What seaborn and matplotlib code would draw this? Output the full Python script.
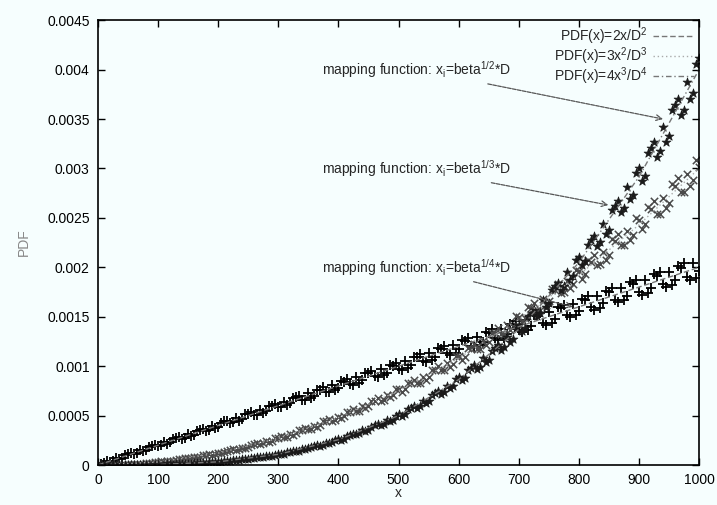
"""
Histogram of sampled positions for three mapping functions x_i = beta^(1/n) * D,
compared with the analytical PDFs (gnuplot-style reproduction).
"""

import numpy as np
import pandas as pd
import matplotlib
matplotlib.use("Agg")
import matplotlib.pyplot as plt
import seaborn as sns

# sample positions: bins on the tens and bins on the fives
x_samples = list(range(0, 1001, 10))
x_samples_half = list(range(5, 1000, 10))

# measured PDF values, in units of 1e-4
pdf_sqrt_e4 = [
    0.05, 0.25, 0.31, 0.72, 0.74, 1.12, 1.08, 1.52, 1.49, 1.95,
    1.90, 2.35, 2.28, 2.71, 2.66, 3.18, 3.05, 3.52, 3.44, 3.97,
    3.88, 4.41, 4.25, 4.79, 4.66, 5.19, 5.02, 5.61, 5.47, 5.95,
    5.83, 6.42, 6.24, 6.85, 6.62, 7.25, 7.01, 7.63, 7.42, 8.10,
    7.81, 8.43, 8.19, 8.88, 8.57, 9.26, 8.98, 9.70, 9.35, 10.05,
    9.74, 10.48, 10.16, 10.91, 10.55, 11.31, 10.92, 11.72, 11.33, 12.14,
    11.71, 12.55, 12.08, 12.97, 12.49, 13.36, 12.87, 13.78, 13.26, 14.21,
    13.64, 14.62, 14.03, 15.04, 14.41, 15.43, 14.80, 15.86, 15.18, 16.27,
    15.57, 16.68, 15.95, 17.10, 16.34, 17.51, 16.73, 17.92, 17.12, 18.33,
    17.51, 18.74, 17.90, 19.15, 18.29, 19.57, 18.68, 19.98, 19.07, 20.39,
    19.62,
]
pdf_sqrt_half_e4 = [
    0.14, 0.36, 0.44, 0.62, 0.98, 1.19, 1.21, 1.40, 1.81, 2.02,
    1.98, 2.17, 2.64, 2.85, 2.75, 2.94, 3.46, 3.68, 3.53, 3.72,
    4.28, 4.50, 4.31, 4.49, 5.12, 5.34, 5.07, 5.26, 5.95, 6.18,
    5.84, 6.02, 6.79, 7.01, 6.60, 6.78, 7.63, 7.85, 7.36, 7.54,
    8.46, 8.69, 8.12, 8.31, 9.30, 9.52, 8.88, 9.07, 10.13, 10.36,
    9.64, 9.83, 10.97, 11.20, 10.40, 10.59, 11.80, 12.03, 11.16, 11.35,
    12.64, 12.87, 11.92, 12.11, 13.47, 13.71, 12.68, 12.87, 14.31, 14.55,
    13.44, 13.63, 15.14, 15.38, 14.20, 14.39, 15.98, 16.22, 14.96, 15.15,
    16.81, 17.05, 15.72, 15.91, 17.65, 17.89, 16.48, 16.67, 18.48, 18.72,
    17.24, 17.43, 19.32, 19.56, 18.00, 18.19, 20.15, 20.39, 18.76, 18.95,
]
pdf_cbrt_e4 = [
    0.02, 0.05, 0.03, 0.06, 0.04, 0.09, 0.12, 0.14, 0.21, 0.23,
    0.32, 0.35, 0.45, 0.49, 0.61, 0.66, 0.79, 0.85, 1.00, 1.06,
    1.23, 1.29, 1.49, 1.55, 1.77, 1.83, 2.08, 2.13, 2.41, 2.46,
    2.76, 2.82, 3.14, 3.20, 3.55, 3.60, 3.97, 4.03, 4.42, 4.48,
    4.90, 4.95, 5.40, 5.45, 5.93, 5.97, 6.47, 6.51, 7.05, 7.09,
    7.64, 7.67, 8.27, 8.28, 8.92, 8.93, 9.59, 9.58, 10.29, 10.25,
    11.01, 10.95, 11.76, 11.69, 12.53, 12.44, 13.33, 13.22, 14.15, 14.02,
    15.00, 14.85, 15.86, 15.69, 16.76, 16.55, 17.67, 17.43, 18.62, 18.35,
    19.58, 19.29, 20.58, 20.25, 21.59, 21.24, 22.63, 22.26, 23.70, 23.29,
    24.79, 24.35, 25.90, 25.43, 27.04, 26.53, 28.20, 27.66, 29.39, 28.81,
    30.10,
]
pdf_cbrt_half_e4 = [
    0.01, 0.04, 0.05, 0.02, 0.04, 0.11, 0.15, 0.14, 0.19, 0.30,
    0.36, 0.37, 0.44, 0.58, 0.67, 0.68, 0.78, 0.97, 1.08, 1.09,
    1.21, 1.45, 1.59, 1.59, 1.74, 2.04, 2.21, 2.20, 2.36, 2.73,
    2.92, 2.88, 3.07, 3.52, 3.73, 3.67, 3.88, 4.41, 4.64, 4.54,
    4.77, 5.38, 5.65, 5.51, 5.76, 6.48, 6.76, 6.57, 6.85, 7.66,
    7.42, 8.29, 8.61, 8.33, 8.64, 9.62, 9.97, 9.62, 9.95, 11.06,
    10.65, 11.81, 12.20, 11.73, 12.11, 13.40, 13.81, 13.26, 13.66, 15.08,
    14.46, 15.97, 16.41, 15.72, 16.15, 17.79, 18.27, 17.48, 17.93, 19.73,
    18.86, 20.73, 21.25, 20.29, 20.78, 22.82, 23.36, 22.28, 22.79, 25.00,
    23.83, 26.13, 26.70, 25.44, 25.99, 28.46, 29.06, 27.66, 28.23, 30.90,
]
pdf_qrt_e4 = [
    0.01, 0.02, 0.00, 0.03, 0.01, 0.02, 0.03, 0.02, 0.04, 0.03,
    0.05, 0.06, 0.08, 0.09, 0.12, 0.13, 0.17, 0.19, 0.24, 0.26,
    0.33, 0.36, 0.44, 0.47, 0.57, 0.61, 0.72, 0.77, 0.90, 0.95,
    1.11, 1.16, 1.35, 1.40, 1.62, 1.67, 1.92, 1.97, 2.26, 2.31,
    2.64, 2.68, 3.05, 3.09, 3.51, 3.54, 4.01, 4.03, 4.56, 4.57,
    5.15, 5.15, 5.79, 5.78, 6.49, 6.46, 7.24, 7.19, 8.04, 7.98,
    8.90, 8.81, 9.82, 9.70, 10.80, 10.65, 11.85, 11.67, 12.95, 12.75,
    14.13, 13.89, 15.38, 15.10, 16.70, 16.38, 18.08, 17.71, 19.55, 19.13,
    21.09, 20.62, 22.72, 22.18, 24.42, 23.82, 26.21, 25.55, 28.08, 27.35,
    30.03, 29.24, 32.08, 31.21, 34.22, 33.26, 36.45, 35.41, 38.78, 37.65,
    41.20,
]
pdf_qrt_half_e4 = [
    0.00, 0.02, 0.01, 0.00, 0.02, 0.01, 0.03, 0.02, 0.03, 0.04,
    0.04, 0.07, 0.09, 0.09, 0.12, 0.15, 0.17, 0.22, 0.26, 0.29,
    0.33, 0.41, 0.47, 0.50, 0.57, 0.68, 0.77, 0.80, 0.90, 1.06,
    1.10, 1.29, 1.42, 1.46, 1.59, 1.84, 2.01, 2.05, 2.21, 2.54,
    2.57, 2.95, 3.17, 3.19, 3.41, 3.88, 4.15, 4.16, 4.42, 5.00,
    4.99, 5.63, 5.97, 5.94, 6.27, 7.04, 7.44, 7.38, 7.76, 8.68,
    8.58, 9.59, 10.07, 9.94, 10.40, 11.58, 12.13, 11.93, 12.46, 13.84,
    13.58, 15.06, 15.72, 15.41, 16.03, 17.73, 18.46, 18.06, 18.75, 20.70,
    20.22, 22.30, 23.16, 22.59, 23.39, 25.75, 26.69, 25.99, 26.88, 29.54,
    28.73, 31.56, 32.64, 31.72, 32.72, 35.88, 37.06, 35.96, 37.06, 40.58,
]

# analytical curves read at x = 0, 100, ..., 1000
x_curve = [0, 100, 200, 300, 400, 500, 600, 700, 800, 900, 1000]
pdf_linear = [0, 0.0002, 0.0004, 0.0006, 0.0008, 0.001, 0.0012, 0.0014, 0.0016, 0.0018, 0.002]
pdf_square = [0, 0.00003, 0.00012, 0.00027, 0.00048, 0.00075, 0.00108, 0.00147, 0.00192, 0.00243, 0.003]
pdf_cube = [0, 0.000004, 0.000032, 0.000108, 0.000256, 0.0005, 0.000864, 0.001372, 0.002048, 0.002916, 0.004]

curve_labels = [r"PDF(x)=2x/D$^2$", r"PDF(x)=3x$^2$/D$^3$", r"PDF(x)=4x$^3$/D$^4$"]
annot_texts = [
    r"mapping function: x$_i$=beta$^{1/2}$*D",
    r"mapping function: x$_i$=beta$^{1/3}$*D",
    r"mapping function: x$_i$=beta$^{1/4}$*D",
]

sns.set_style("ticks")
plt.rcParams["font.family"] = ["Liberation Sans", "DejaVu Sans"]
plt.rcParams["mathtext.fontset"] = "custom"
plt.rcParams["mathtext.rm"] = "Liberation Sans"
plt.rcParams["mathtext.it"] = "Liberation Sans"

bg = "#f6fefe"
fig = plt.figure(figsize=(7.17, 5.05), dpi=100, facecolor=bg)
ax = fig.add_axes([0.1367, 0.0792, 0.8383, 0.8808], facecolor=bg)

# stack both bin sets into one long table
samples = pd.concat([
    pd.DataFrame({"x": x_samples, "sqrt": pdf_sqrt_e4, "cbrt": pdf_cbrt_e4, "qrt": pdf_qrt_e4}),
    pd.DataFrame({"x": x_samples_half, "sqrt": pdf_sqrt_half_e4,
                  "cbrt": pdf_cbrt_half_e4, "qrt": pdf_qrt_half_e4}),
], ignore_index=True)
for col in ["sqrt", "cbrt", "qrt"]:
    samples[col] = samples[col] * 1e-4

curves = pd.DataFrame({
    "x": x_curve,
    "lin": pdf_linear,
    "sq": pdf_square,
    "cu": pdf_cube,
})

# analytical PDFs (mostly hidden beneath the samples)
sns.lineplot(data=curves, x="x", y="lin", ax=ax, color="#777777", lw=1,
             linestyle=(0, (4, 2)), label=curve_labels[0])
sns.lineplot(data=curves, x="x", y="sq", ax=ax, color="#aaaaaa", lw=1,
             linestyle=(0, (1, 2)), label=curve_labels[1])
sns.lineplot(data=curves, x="x", y="cu", ax=ax, color="#777777", lw=1,
             linestyle=(0, (4, 2, 1, 2)), label=curve_labels[2])

# sampled histograms
sns.scatterplot(data=samples, x="x", y="sqrt", ax=ax, marker="+", s=45,
                color="black", linewidth=1.3, legend=False)
sns.scatterplot(data=samples, x="x", y="cbrt", ax=ax, marker="x", s=28,
                color="#4a4a4a", linewidth=1.1, legend=False)
sns.scatterplot(data=samples, x="x", y="qrt", ax=ax, marker="*", s=45,
                color="#1a1a1a", edgecolor="#1a1a1a", linewidth=0.5, legend=False)

# annotations with arrows
arrow_kw = dict(arrowstyle="->", color="#555555", lw=0.9, linestyle=(0, (3, 1)),
                shrinkA=2, shrinkB=0)
ax.annotate(annot_texts[0], xy=(940, 0.0035), xytext=(373, 0.004),
            fontsize=10, va="center", ha="left", arrowprops=arrow_kw)
ax.annotate(annot_texts[1], xy=(849, 0.00263), xytext=(373, 0.003),
            fontsize=10, va="center", ha="left", arrowprops=arrow_kw)
ax.annotate(annot_texts[2], xy=(790, 0.0016), xytext=(373, 0.002),
            fontsize=10, va="center", ha="left", arrowprops=arrow_kw)

ax.set_xlim(0, 1000)
ax.set_ylim(0, 0.0045)
ax.set_xticks(range(0, 1001, 100))
ax.set_yticks(np.arange(0, 0.00451, 0.0005))
ax.set_yticklabels(["0", "0.0005", "0.001", "0.0015", "0.002",
                    "0.0025", "0.003", "0.0035", "0.004", "0.0045"])
ax.tick_params(direction="in", length=5, width=1, top=True, right=True,
               labelsize=10, colors="black", pad=6)
for side in ax.spines.values():
    side.set_linewidth(1.2)
    side.set_color("black")

ax.set_xlabel("x", fontsize=10, labelpad=-1)
ax.set_ylabel("PDF", fontsize=10, color="#888888", labelpad=12)

ax.legend(loc="upper right", frameon=False, markerfirst=False,
          fontsize=10, handlelength=2.9, labelspacing=-0.12,
          borderaxespad=0.1, borderpad=0.3, handletextpad=0.4)

plt.savefig("out.png", dpi=100, facecolor=bg)
plt.close()
